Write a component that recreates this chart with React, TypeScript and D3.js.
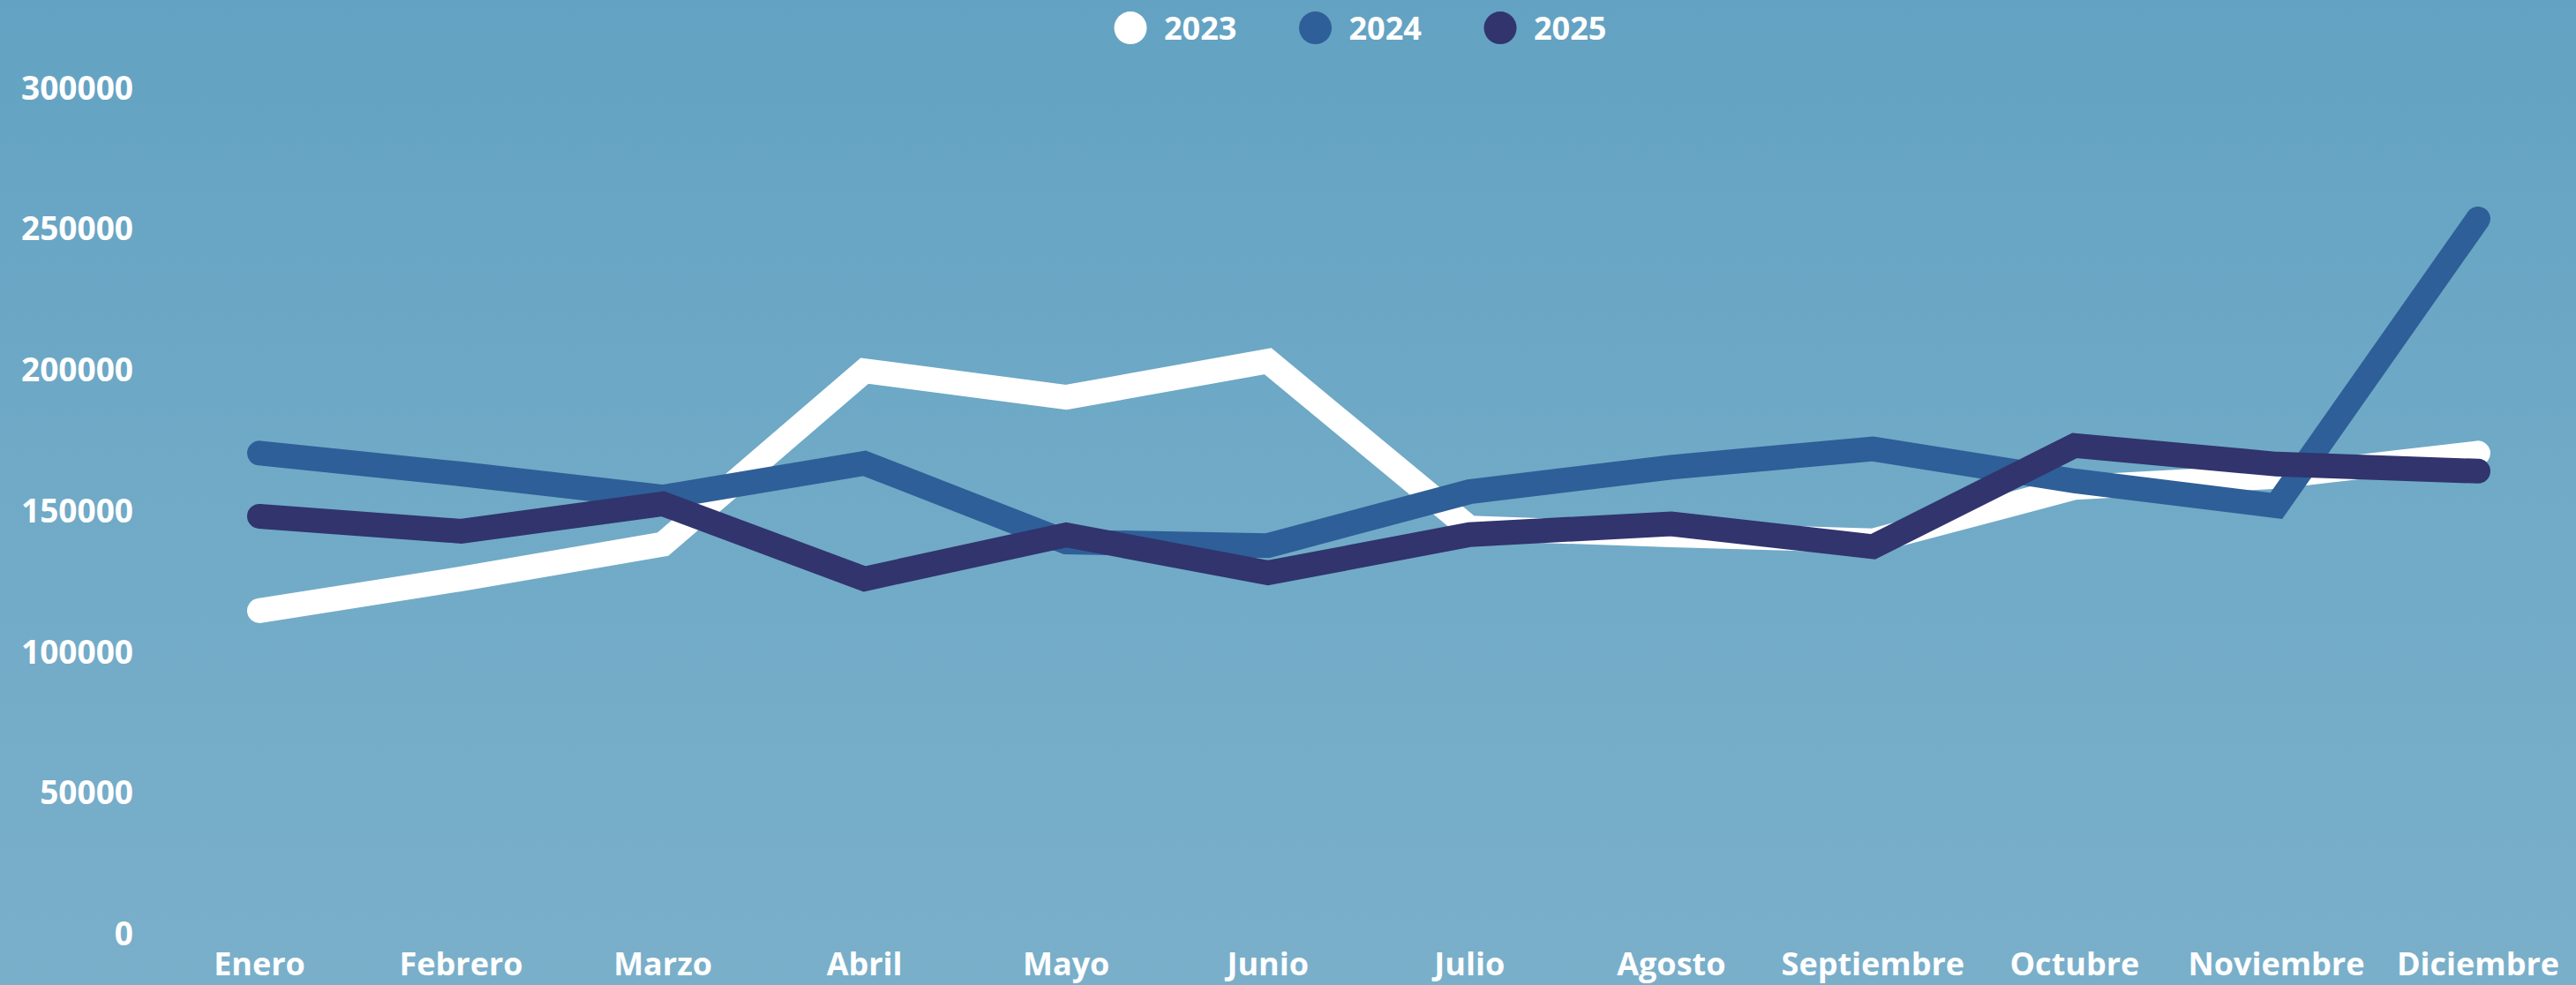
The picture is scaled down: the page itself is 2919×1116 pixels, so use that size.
import React, { useEffect, useRef } from "react";
import * as d3 from "d3";

const months = ["Enero", "Febrero", "Marzo", "Abril", "Mayo", "Junio", "Julio", "Agosto", "Septiembre", "Octubre", "Noviembre", "Diciembre"];
const years = ["2023", "2024", "2025"];
const values2023 = [114600, 125900, 138200, 199700, 190300, 203100, 143900, 141500, 139400, 158300, 162200, 170500];
const values2024 = [170500, 163100, 154900, 166900, 139000, 137700, 156800, 165500, 172000, 160600, 151800, 253600];
const values2025 = [148100, 142800, 152500, 125900, 141500, 128000, 141600, 145400, 137300, 173200, 166600, 164100];
const yTicks = [0, 50000, 100000, 150000, 200000, 250000, 300000];
const colors = ["#ffffff", "#2e5f98", "#31346d"];

const W = 2919;
const H = 1116;

export default function App() {
  const ref = useRef<SVGSVGElement>(null);

  useEffect(() => {
    const svg = d3.select(ref.current);
    svg.selectAll("*").remove();

    const defs = svg.append("defs");
    const grad = defs.append("linearGradient").attr("id", "bg").attr("x1", 0).attr("y1", 0).attr("x2", 0).attr("y2", 1);
    grad.append("stop").attr("offset", "0%").attr("stop-color", "#63a2c2");
    grad.append("stop").attr("offset", "50%").attr("stop-color", "#70aac7");
    grad.append("stop").attr("offset", "100%").attr("stop-color", "#7aafca");
    svg.append("rect").attr("width", W).attr("height", H).attr("fill", "url(#bg)");

    const x = d3.scalePoint<string>().domain(months).range([294, 2808]);
    const y = d3.scaleLinear().domain([0, 300000]).range([1058, 99.7]);

    const font = "'Open Sans', sans-serif";

    // y tick labels
    svg.append("g").selectAll("text").data(yTicks).join("text")
      .attr("x", 151)
      .attr("y", (d) => y(d) + 13)
      .attr("text-anchor", "end")
      .attr("font-family", font)
      .attr("font-weight", 700)
      .attr("font-size", 37)
      .attr("fill", "#ffffff")
      .text((d) => String(d));

    // x tick labels
    svg.append("g").selectAll("text").data(months).join("text")
      .attr("x", (d) => x(d)!)
      .attr("y", 1105)
      .attr("text-anchor", "middle")
      .attr("font-family", font)
      .attr("font-weight", 700)
      .attr("font-size", 36)
      .attr("fill", "#ffffff")
      .text((d) => d);

    const series = [values2023, values2024, values2025];
    const line = d3.line<number>().x((_, i) => x(months[i])!).y((d) => y(d));

    series.forEach((vals, i) => {
      svg.append("path")
        .attr("d", line(vals)!)
        .attr("fill", "none")
        .attr("stroke", colors[i])
        .attr("stroke-width", 28)
        .attr("stroke-linejoin", "miter")
        .attr("stroke-miterlimit", 10)
        .attr("stroke-linecap", "round");
    });

    // legend
    const lg = svg.append("g");
    years.forEach((yr, i) => {
      const cx = 1281 + i * 209.5;
      lg.append("circle").attr("cx", cx).attr("cy", 31.6).attr("r", 18.5).attr("fill", colors[i]);
      lg.append("text")
        .attr("x", cx + 38)
        .attr("y", 45)
        .attr("font-family", font)
        .attr("font-weight", 700)
        .attr("font-size", 36)
        .attr("fill", "#ffffff")
        .text(yr);
    });
  }, []);

  return (
    <svg ref={ref} width={W} height={H} style={{ position: "absolute", left: 0, top: 0, display: "block" }} />
  );
}
